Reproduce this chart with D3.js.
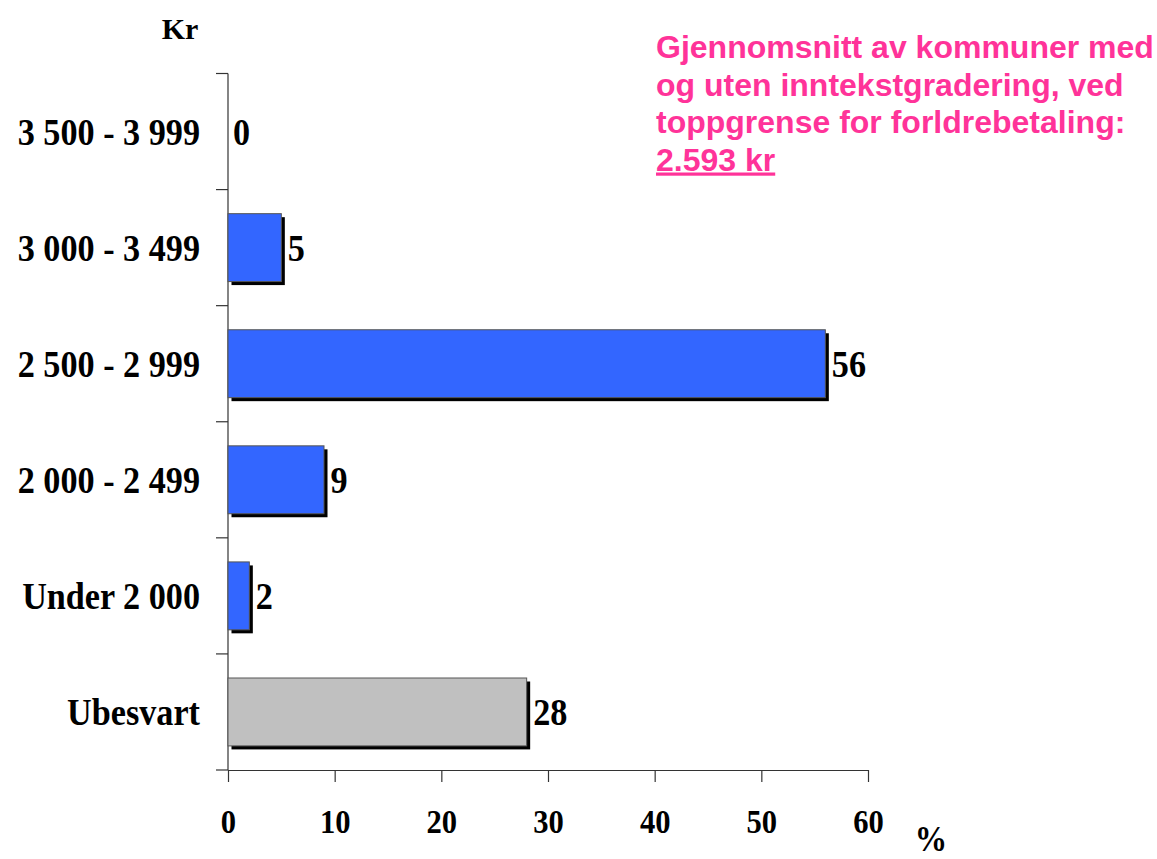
<!DOCTYPE html>
<html>
<head>
<meta charset="utf-8">
<script src="https://cdn.jsdelivr.net/npm/d3@7"></script>
<style>
  body { margin: 0; background: #fff; }
  svg { display: block; }
</style>
</head>
<body>
<script>
// data
var categories = ["3 500 - 3 999", "3 000 - 3 499", "2 500 - 2 999", "2 000 - 2 499", "Under 2 000", "Ubesvart"];
var values = [0, 5, 56, 9, 2, 28];
var barColors = ["#3366FF", "#3366FF", "#3366FF", "#3366FF", "#3366FF", "#C0C0C0"];
var xTicks = [0, 10, 20, 30, 40, 50, 60];
var noteLines = ["Gjennomsnitt av kommuner med", "og uten inntekstgradering, ved", "toppgrense for forldrebetaling:", "2.593 kr"];

var W = 1157, H = 859;
var serif = "'Liberation Serif', 'Times New Roman', serif";
var sans = "'Liberation Sans', Arial, sans-serif";
var squeeze = 0.9; // the serif text in the original is a bit condensed

var svg = d3.select("body").append("svg").attr("width", W).attr("height", H);

var x = d3.scaleLinear().domain([0, 60]).range([228, 868]);
var y = d3.scaleBand().domain(categories).range([73.5, 770])
    .paddingInner(0.415).paddingOuter(0.2075);
var step = y.step();
var shadow = 3.5;

// place a condensed serif label
function boldText(sel, size) {
    return sel.attr("x", 0).attr("y", 0)
        .style("font-family", serif)
        .style("font-weight", "bold")
        .style("font-size", size + "px");
}
function at(px, py) {
    return "translate(" + px + "," + py + ") scale(" + squeeze + ",1)";
}

// y axis line + ticks at band boundaries
var g = svg.append("g");
g.append("line")
    .attr("x1", x(0)).attr("x2", x(0))
    .attr("y1", y.range()[0]).attr("y2", y.range()[1])
    .attr("stroke", "#333").attr("stroke-width", 1.2);
var bounds = d3.range(categories.length + 1).map((i) => y.range()[0] + i * step);
g.selectAll("line.ytick")
    .data(bounds)
    .join("line")
    .attr("class", "ytick")
    .attr("x1", x(0) - 12).attr("x2", x(0))
    .attr("y1", (d) => d).attr("y2", (d) => d)
    .attr("stroke", "#333").attr("stroke-width", 1.2);

// x axis
var xAxis = d3.axisBottom(x).tickValues(xTicks).tickSize(12).tickSizeOuter(0);
var ax = svg.append("g").attr("transform", "translate(0,770)").call(xAxis);
ax.select(".domain").attr("stroke", "#333").attr("stroke-width", 1.2);
ax.selectAll(".tick line").attr("stroke", "#333").attr("stroke-width", 1.2);
ax.selectAll(".tick text").remove();
ax.selectAll(".tick").append("text")
    .call(boldText, 34)
    .attr("transform", at(0, 63))
    .attr("text-anchor", "middle")
    .attr("fill", "#000")
    .text((d) => d);

// bars with drop shadow
var bars = svg.append("g");
var rows = categories.map((c, i) => ({ c: c, v: values[i], col: barColors[i] }));
bars.selectAll("rect.shadow")
    .data(rows.filter((d) => d.v > 0))
    .join("rect")
    .attr("class", "shadow")
    .attr("x", x(0) + shadow)
    .attr("y", (d) => y(d.c) + shadow)
    .attr("width", (d) => x(d.v) - x(0))
    .attr("height", y.bandwidth())
    .attr("fill", "#000");
bars.selectAll("rect.bar")
    .data(rows.filter((d) => d.v > 0))
    .join("rect")
    .attr("class", "bar")
    .attr("x", x(0))
    .attr("y", (d) => y(d.c))
    .attr("width", (d) => x(d.v) - x(0))
    .attr("height", y.bandwidth())
    .attr("fill", (d) => d.col)
    .attr("stroke", "#555")
    .attr("stroke-width", 1);

// value labels
svg.append("g").selectAll("text")
    .data(rows)
    .join("text")
    .call(boldText, 38)
    .attr("transform", (d) => at(x(d.v) + (d.v > 0 ? shadow + 3 : 5), y(d.c) + y.bandwidth() / 2 + 13))
    .text((d) => d.v);

// category labels
svg.append("g").selectAll("text")
    .data(categories)
    .join("text")
    .call(boldText, 38)
    .attr("transform", (d) => at(200, y(d) + y.bandwidth() / 2 + 13))
    .attr("text-anchor", "end")
    .text((d) => d);

// axis titles
svg.append("text").call(boldText, 30)
    .attr("transform", "translate(180,39)")
    .attr("text-anchor", "middle").text("Kr");
svg.append("text").call(boldText, 36)
    .attr("transform", at(931, 851))
    .attr("text-anchor", "middle").text("%");

// pink note
svg.append("g").selectAll("text")
    .data(noteLines)
    .join("text")
    .attr("x", 656)
    .attr("y", (d, i) => 58 + i * 37.5)
    .text((d) => d)
    .attr("fill", "#FF3399")
    .style("font-family", sans)
    .style("font-weight", "bold")
    .style("font-size", "32px")
    .style("text-decoration", (d, i) => (i === noteLines.length - 1 ? "underline" : "none"));
</script>
</body>
</html>
